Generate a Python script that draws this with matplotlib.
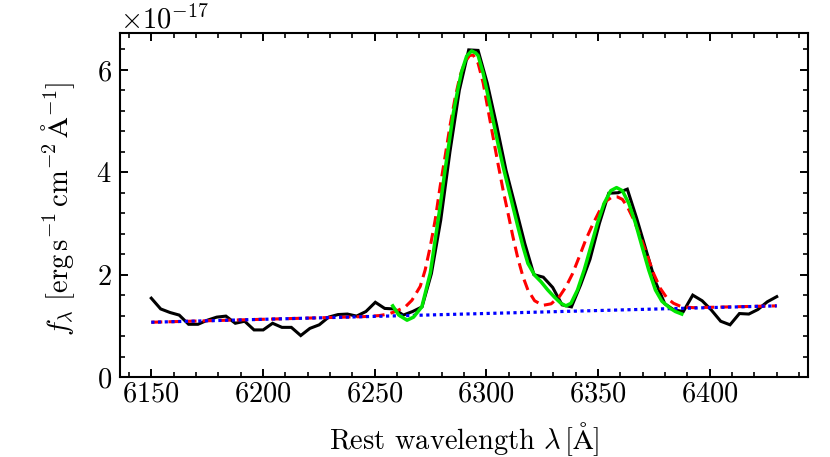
import numpy as np
import matplotlib
matplotlib.use("Agg")
import matplotlib.pyplot as plt
from matplotlib.ticker import MultipleLocator, AutoMinorLocator

plt.rcParams['font.family'] = 'serif'
plt.rcParams['font.serif'] = ['cmr10']
plt.rcParams['mathtext.fontset'] = 'cm'
plt.rcParams['axes.formatter.use_mathtext'] = True
plt.rcParams['axes.unicode_minus'] = False

SCALE = 1e-17

# observed spectrum (flux in units of 1e-17)
wave = [6150.0, 6154.2, 6158.4, 6162.5, 6166.7, 6170.9, 6175.1, 6179.3, 6183.4, 6187.6,
        6191.8, 6196.0, 6200.1, 6204.3, 6208.5, 6212.7, 6216.9, 6221.0, 6225.2, 6229.4,
        6233.6, 6237.8, 6241.9, 6246.1, 6250.3, 6254.5, 6258.7, 6262.8, 6267.0, 6271.2,
        6275.4, 6279.6, 6283.7, 6287.9, 6292.1, 6296.3, 6300.4, 6304.6, 6308.8, 6313.0,
        6317.2, 6321.3, 6325.5, 6329.7, 6333.9, 6338.1, 6342.2, 6346.4, 6350.6, 6354.8,
        6359.0, 6363.1, 6367.3, 6371.5, 6375.7, 6379.9, 6384.0, 6388.2, 6392.4, 6396.6,
        6400.7, 6404.9, 6409.1, 6413.3, 6417.5, 6421.6, 6425.8, 6430.0]
flux = [1.54, 1.33, 1.26, 1.21, 1.03, 1.03, 1.11, 1.17, 1.19, 1.05,
        1.09, 0.92, 0.92, 1.05, 0.97, 0.97, 0.81, 0.95, 1.02, 1.17,
        1.22, 1.23, 1.19, 1.28, 1.46, 1.34, 1.33, 1.21, 1.28, 1.37,
        2.02, 3.07, 4.40, 5.60, 6.39, 6.38, 5.74, 4.92, 4.04, 3.33,
        2.61, 2.00, 1.95, 1.75, 1.41, 1.37, 1.80, 2.30, 3.00, 3.59,
        3.60, 3.67, 3.10, 2.48, 1.86, 1.43, 1.31, 1.28, 1.60, 1.49,
        1.31, 1.09, 1.02, 1.24, 1.23, 1.32, 1.47, 1.57]

# total model (red dashed)
model_wave = [6150.0, 6245.0, 6252.0, 6256.0, 6259.3, 6263.7, 6266.7, 6270.4, 6272.6, 6274.9,
              6277.1, 6279.3, 6281.5, 6283.7, 6286.0, 6288.2, 6290.4, 6292.5, 6294.1, 6296.3,
              6298.6, 6300.8, 6303.0, 6305.2, 6307.5, 6309.7, 6311.9, 6314.1, 6316.4, 6318.6,
              6321.6, 6325.3, 6329.0, 6332.7, 6335.6, 6338.6, 6341.6, 6344.5, 6347.5, 6350.5,
              6353.4, 6356.4, 6358.6, 6360.9, 6363.1, 6366.0, 6369.0, 6372.0, 6374.9, 6377.9,
              6380.9, 6383.8, 6387.5, 6392.7, 6430.0]
model_flux = [1.07, 1.18, 1.20, 1.23, 1.28, 1.37, 1.50, 1.77, 2.09, 2.55,
              3.07, 3.72, 4.30, 4.90, 5.45, 5.88, 6.15, 6.28, 6.29, 6.13,
              5.74, 5.21, 4.69, 4.17, 3.65, 3.20, 2.74, 2.32, 1.96, 1.70,
              1.49, 1.40, 1.43, 1.57, 1.76, 2.02, 2.35, 2.68, 2.97, 3.23,
              3.43, 3.52, 3.52, 3.47, 3.33, 3.07, 2.74, 2.38, 2.02, 1.73,
              1.54, 1.44, 1.37, 1.355, 1.39]

# continuum (blue dotted)
cont_wave = [6150.0, 6430.0]
cont_flux = [1.07, 1.39]

# alternative line fit (green)
fit_wave = [6258.1, 6260.8, 6264.5, 6267.4, 6271.1, 6274.9, 6277.1, 6279.3, 6281.5, 6283.5,
            6285.2, 6287.2, 6288.9, 6291.2, 6293.4, 6295.2, 6296.3, 6298.6, 6300.8, 6303.0,
            6305.2, 6307.5, 6309.7, 6311.9, 6314.1, 6316.4, 6318.6, 6321.6, 6324.5, 6327.5,
            6330.5, 6333.4, 6335.6, 6337.9, 6340.8, 6343.8, 6346.8, 6349.7, 6352.7, 6355.7,
            6358.3, 6360.9, 6363.8, 6366.8, 6369.7, 6372.7, 6375.7, 6378.6, 6382.4, 6384.6,
            6387.5]
fit_flux = [1.39, 1.21, 1.11, 1.17, 1.37, 2.03, 2.68, 3.33, 4.04, 4.63,
            5.15, 5.61, 5.96, 6.27, 6.37, 6.33, 6.28, 5.93, 5.48, 5.02,
            4.56, 4.11, 3.72, 3.33, 2.94, 2.55, 2.22, 1.99, 1.86, 1.70,
            1.56, 1.44, 1.39, 1.44, 1.70, 2.09, 2.55, 3.00, 3.39, 3.64,
            3.70, 3.64, 3.39, 3.00, 2.55, 2.09, 1.70, 1.48, 1.34, 1.28,
            1.23]

FS = 20.5

fig = plt.figure(figsize=(8.3, 4.57), dpi=100)
ax = fig.add_axes([0.1446, 0.175, 0.8289, 0.7528])

ax.plot(wave, np.array(flux) * SCALE, color='black', lw=2.2, zorder=2,
        solid_joinstyle='miter')
ax.plot(model_wave, np.array(model_flux) * SCALE, color='red', lw=2.2,
        ls=(0, (3.6, 2.0)), zorder=3)
ax.plot(cont_wave, np.array(cont_flux) * SCALE, color='blue', lw=2.3,
        ls=(0, (1.0, 1.1)), zorder=4)
ax.plot(fit_wave, np.array(fit_flux) * SCALE, color='#00e600', lw=2.5, zorder=5)

ax.set_xlim(6136, 6444)
ax.set_ylim(0, 6.72e-17)
ax.xaxis.set_major_locator(MultipleLocator(50))
ax.xaxis.set_minor_locator(MultipleLocator(10))
ax.yaxis.set_major_locator(MultipleLocator(2e-17))
ax.yaxis.set_minor_locator(AutoMinorLocator(5))

ax.tick_params(which='both', direction='in', top=True, right=True, labelsize=FS)
ax.tick_params(axis='x', which='both', pad=3)
ax.tick_params(axis='y', which='both', pad=6)
ax.tick_params(which='major', length=6, width=1.4)
ax.tick_params(which='minor', length=3.5, width=1.2)
for s in ax.spines.values():
    s.set_linewidth(1.5)
ax.yaxis.get_offset_text().set_fontsize(FS)

ax.set_xlabel(r'Rest wavelength $\lambda\,[\mathrm{Å}]$', fontsize=FS)
ax.set_ylabel(r'$f_\lambda\ [\mathrm{erg\,s^{-1}\,cm^{-2}}\,\mathrm{Å}{}^{-1}]$', fontsize=FS)
ax.xaxis.set_label_coords(0.5, -0.125)
ax.yaxis.set_label_coords(-0.062, 0.49)

fig.savefig('out.png', dpi=100)
